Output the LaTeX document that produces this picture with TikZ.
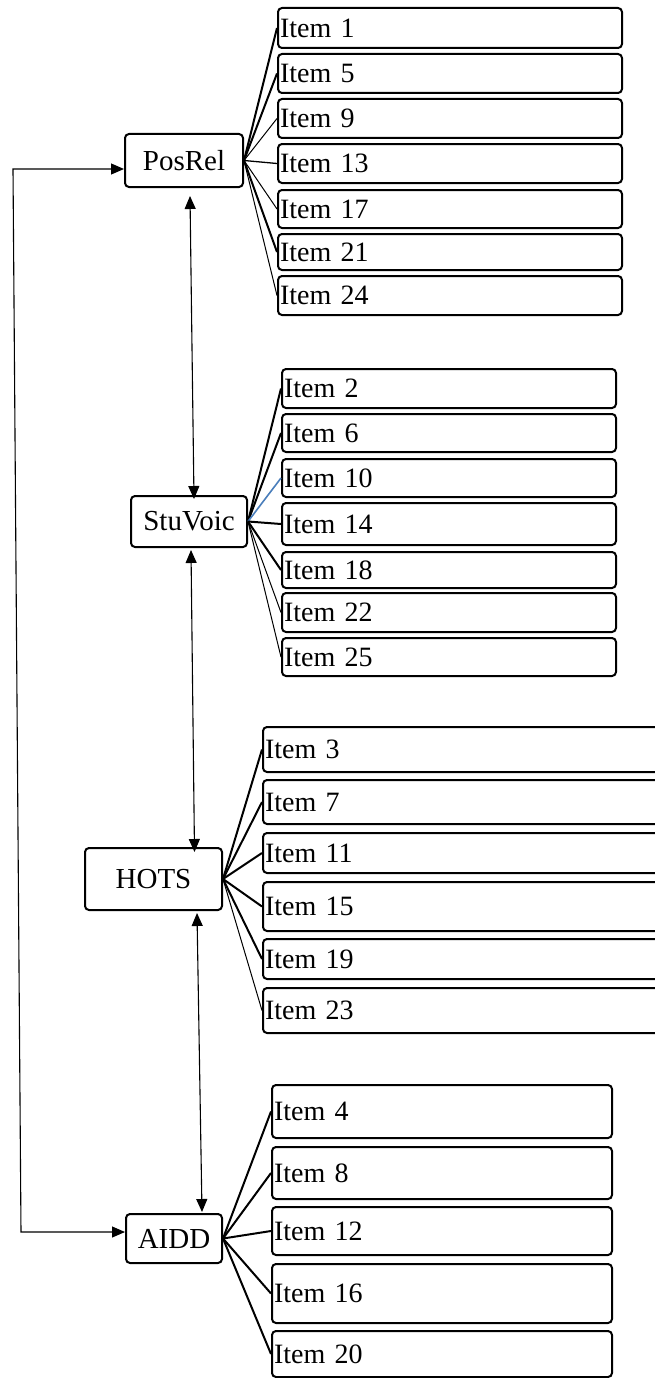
\documentclass[tikz,border=0pt]{standalone}
\usepackage{fontspec}
\setmainfont{Liberation Serif}
\usetikzlibrary{arrows.meta}
\definecolor{lineblue}{RGB}{74,126,187}
\newcommand\mkitem[6]{%
  \pgfmathsetmacro\iw{#5-#3-4}\pgfmathsetmacro\ih{#6-#4}%
  \node[itembox, text width=\iw pt, minimum height=\ih pt, anchor=north west] (#1) at (#3,#4) {#2};}
\begin{document}
\begin{tikzpicture}[x=1pt,y=-1pt,
  itembox/.style={draw, line width=2pt, rounded corners=4pt, inner xsep=2pt, inner ysep=0pt, align=left,
    font=\fontsize{28}{30}\selectfont},
  catbox/.style={draw, line width=2pt, rounded corners=4pt, inner sep=0pt, align=center,
    font=\fontsize{29}{31}\selectfont},
  fatline/.style={line width=2pt},
  thinline/.style={line width=1pt},
  biarrow/.style={line width=1.1pt, {Triangle[length=13pt,width=11pt]}-{Triangle[length=13pt,width=11pt]}}]
\useasboundingbox (0,0) rectangle (654,1378);
% category boxes
\node[catbox, minimum width=118pt, minimum height=53pt] (PosRel) at (184,160.5) {PosRel};
\node[catbox, minimum width=116pt, minimum height=51pt] (StuVoic) at (189,521.5) {StuVoic};
\node[catbox, minimum width=137pt, minimum height=62pt] (HOTS) at (153.5,879) {HOTS};
\node[catbox, minimum width=96pt, minimum height=49pt] (AIDD) at (174,1238.5) {AIDD};
% group 1
\mkitem{i1}{Item 1}{277}{7}{621}{47}
\mkitem{i5}{Item 5}{277}{53}{621}{92}
\mkitem{i9}{Item 9}{277}{98}{621}{137}
\mkitem{i13}{Item 13}{277}{143}{621}{182}
\mkitem{i17}{Item 17}{277}{189}{621}{227}
\mkitem{i21}{Item 21}{277}{233}{621}{269}
\mkitem{i24}{Item 24}{277}{275}{621}{314}
% group 2
\mkitem{i2}{Item 2}{281}{368}{615}{407}
\mkitem{i6}{Item 6}{281}{413}{615}{451}
\mkitem{i10}{Item 10}{281}{458}{615}{496}
\mkitem{i14}{Item 14}{281}{502}{615}{544}
\mkitem{i18}{Item 18}{281}{551}{615}{587}
\mkitem{i22}{Item 22}{281}{592}{615}{631}
\mkitem{i25}{Item 25}{281}{637}{615}{675}
% group 3
\mkitem{i3}{Item 3}{262}{726}{680}{771}
\mkitem{i7}{Item 7}{262}{779}{680}{823}
\mkitem{i11}{Item 11}{262}{832}{680}{872}
\mkitem{i15}{Item 15}{262}{881}{680}{930}
\mkitem{i19}{Item 19}{262}{938}{680}{978}
\mkitem{i23}{Item 23}{262}{987}{680}{1032}
% group 4
\mkitem{i4}{Item 4}{271}{1084}{611}{1137}
\mkitem{i8}{Item 8}{271}{1146}{611}{1198}
\mkitem{i12}{Item 12}{271}{1206}{611}{1254}
\mkitem{i16}{Item 16}{271}{1263}{611}{1322}
\mkitem{i20}{Item 20}{271}{1330}{611}{1376}
% fan lines group 1
\draw[fatline] (PosRel.east) -- (i1.west);
\draw[fatline] (PosRel.east) -- (i5.west);
\draw[thinline] (PosRel.east) -- (i9.west);
\draw[line width=1.3pt] (PosRel.east) -- (i13.west);
\draw[thinline] (PosRel.east) -- (i17.west);
\draw[fatline] (PosRel.east) -- (i21.west);
\draw[thinline] (PosRel.east) -- (i24.west);
% fan lines group 2
\draw[fatline] (StuVoic.east) -- (i2.west);
\draw[fatline] (StuVoic.east) -- (i6.west);
\draw[line width=1.6pt, lineblue] (StuVoic.east) -- (i10.west);
\draw[fatline] (StuVoic.east) -- (i14.west);
\draw[fatline] (StuVoic.east) -- (i18.west);
\draw[thinline] (StuVoic.east) -- (i22.west);
\draw[thinline] (StuVoic.east) -- (i25.west);
% fan lines group 3
\draw[fatline] (HOTS.east) -- (i3.west);
\draw[fatline] (HOTS.east) -- (i7.west);
\draw[fatline] (HOTS.east) -- (i11.west);
\draw[fatline] (HOTS.east) -- (i15.west);
\draw[fatline] (HOTS.east) -- (i19.west);
\draw[thinline] (HOTS.east) -- (i23.west);
% fan lines group 4
\draw[fatline] (AIDD.east) -- (i4.west);
\draw[fatline] (AIDD.east) -- (i8.west);
\draw[fatline] (AIDD.east) -- (i12.west);
\draw[fatline] (AIDD.east) -- (i16.west);
\draw[fatline] (AIDD.east) -- (i20.west);
% vertical double arrows
\draw[biarrow] ([xshift=6pt,yshift=-8pt]PosRel.south) -- ([xshift=5pt,yshift=-4pt]StuVoic.north);
\draw[biarrow] ([xshift=2pt,yshift=-2pt]StuVoic.south) -- ([xshift=41pt,yshift=-5pt]HOTS.north);
\draw[biarrow] ([xshift=43.5pt,yshift=-2pt]HOTS.south) -- ([xshift=28pt,yshift=1pt]AIDD.north);
% left loop
\coordinate (c1) at (13,169);
\coordinate (c2) at (21,1232);
\draw[biarrow] ([yshift=-8.5pt]PosRel.west) -- (c1) -- (c2) -- ([yshift=6.5pt]AIDD.west);
\end{tikzpicture}
\end{document}
